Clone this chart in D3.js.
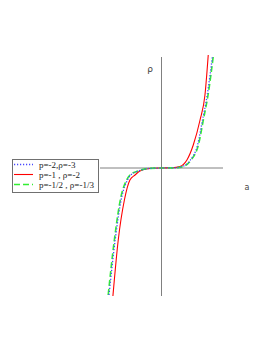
<!DOCTYPE html>
<html lang="en">
<head>
    <meta charset="UTF-8">
    <title>rho(a)</title>
    <script src="https://d3js.org/d3.v7.min.js"></script>
    <style>
        body { margin: 0; background: #fff; }
    </style>
</head>
<body>
    <div id="chart"></div>

    <script>
        // values (a, rho)
        const redA   = [-2.37, -2.11, -1.81, -1.54, -1.29, -1.05, -0.56, 0, 0.51, 0.90, 1.24, 1.55, 1.88, 2.12, 2.28];
        const redRho = [-12.8, -7.2, -3.2, -1.2, -0.7, -0.3, -0.05, 0, 0.02, 0.15, 0.8, 2.3, 4.8, 7.3, 11.3];

        const greenA   = [-2.60, -2.30, -1.98, -1.70, -1.54, -1.15, -0.66, 0, 0.66, 1.05, 1.44, 1.80, 2.04, 2.27, 2.53];
        const greenRho = [-12.7, -7.2, -2.9, -1.2, -0.7, -0.3, -0.05, 0, 0.02, 0.15, 0.8, 2.3, 4.8, 7.3, 11.25];

        const blueA   = [-2.56, -2.26, -1.94, -1.66, -1.50, -1.12, -0.64, 0, 0.64, 1.02, 1.41, 1.76, 2.00, 2.23, 2.49];
        const blueRho = [-12.7, -7.2, -2.9, -1.2, -0.7, -0.3, -0.05, 0, 0.02, 0.15, 0.8, 2.3, 4.8, 7.3, 11.25];

        const legendLabels = ["p=-2,\u03c1=-3", "p=-1 , \u03c1=-2", "p=-1/2 , \u03c1=-1/3"];

        const width = 272, height = 352;

        const svg = d3.select("#chart").append("svg")
            .attr("width", width)
            .attr("height", height);

        const x = d3.scaleLinear().domain([-3, 3]).range([100, 223]);
        const y = d3.scaleLinear().domain([-12.8, 11.1]).range([296, 57]);

        // axes through the origin
        svg.append("line")
            .attr("x1", x(-3)).attr("x2", x(3))
            .attr("y1", y(0)).attr("y2", y(0))
            .attr("stroke", "#808080").attr("stroke-width", 1);
        svg.append("line")
            .attr("x1", x(0)).attr("x2", x(0))
            .attr("y1", y(-12.8)).attr("y2", y(11.1))
            .attr("stroke", "#808080").attr("stroke-width", 1);

        svg.append("text")
            .attr("x", 150).attr("y", 72)
            .attr("text-anchor", "middle")
            .attr("font-family", "DejaVu Sans, sans-serif")
            .attr("font-size", 9)
            .attr("fill", "#444")
            .text("\u03c1");
        svg.append("text")
            .attr("x", 247).attr("y", 190)
            .attr("text-anchor", "middle")
            .attr("font-family", "DejaVu Sans, sans-serif")
            .attr("font-size", 8)
            .attr("fill", "#444")
            .text("a");

        const line = d3.line()
            .x(d => x(d[0]))
            .y(d => y(d[1]))
            .curve(d3.curveMonotoneX);

        const series = [
            { a: redA, rho: redRho, color: "#ff0000", dash: null, w: 1.1 },
            { a: greenA, rho: greenRho, color: "#33ee33", dash: "6,3", w: 1.6 },
            { a: blueA, rho: blueRho, color: "#4848ff", dash: "1.2,1.8", w: 1.3 }
        ];

        series.forEach(s => {
            svg.append("path")
                .datum(d3.zip(s.a, s.rho))
                .attr("d", line)
                .attr("fill", "none")
                .attr("stroke", s.color)
                .attr("stroke-width", s.w)
                .attr("stroke-dasharray", s.dash);
        });

        // legend
        const legend = svg.append("g");
        legend.append("rect")
            .attr("x", 12.5).attr("y", 159.5)
            .attr("width", 86).attr("height", 33)
            .attr("fill", "#fff")
            .attr("stroke", "#707070");

        const legendStyles = [series[2], series[0], series[1]];
        legendLabels.forEach((lab, i) => {
            const ly = 164.5 + i * 10;
            const s = legendStyles[i];
            legend.append("line")
                .attr("x1", 14).attr("x2", 33)
                .attr("y1", ly).attr("y2", ly)
                .attr("stroke", s.color)
                .attr("stroke-width", s.w)
                .attr("stroke-dasharray", s.dash);
            legend.append("text")
                .attr("x", 39).attr("y", ly + 3)
                .attr("font-family", "Liberation Serif, serif")
                .attr("font-size", 9)
                .attr("fill", "#222")
                .text(lab);
        });
    </script>
</body>
</html>
